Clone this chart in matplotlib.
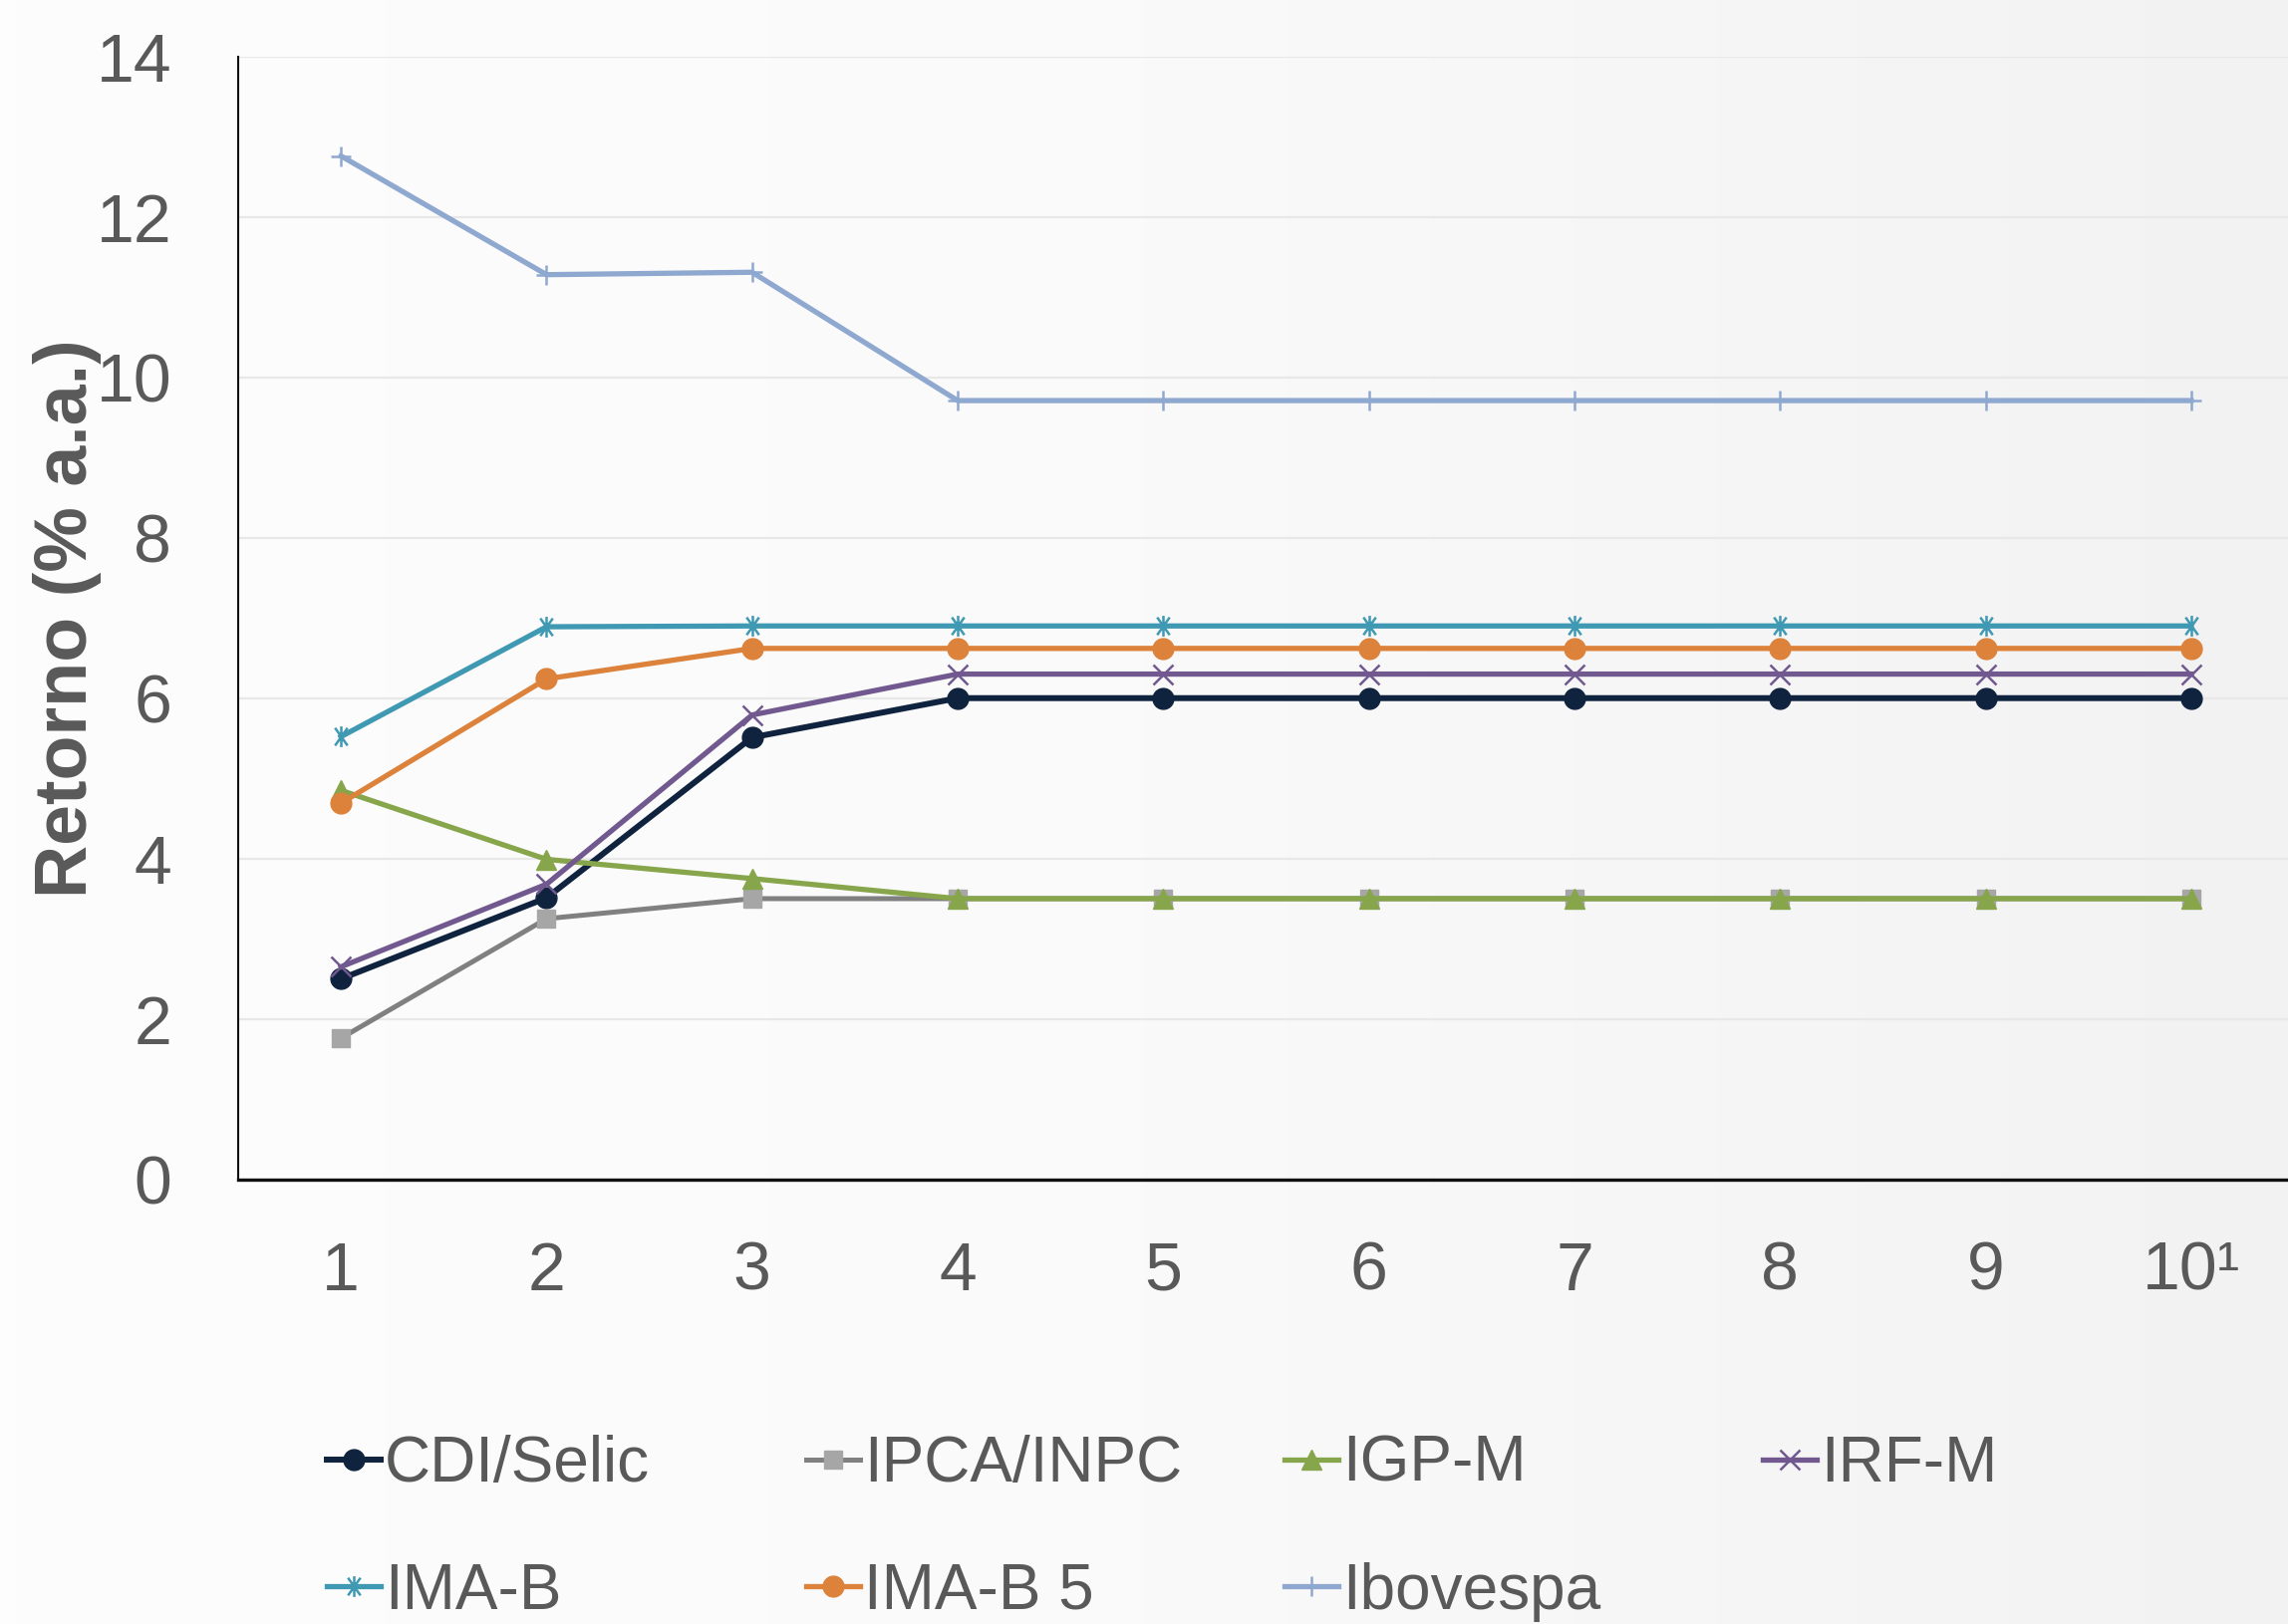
import numpy as np
import matplotlib
matplotlib.use("Agg")
import matplotlib.pyplot as plt
from matplotlib.path import Path
from matplotlib.colors import LinearSegmentedColormap

# Holding period (years) and projected annual return (% a.a.) per index
anos = [1, 2, 3, 4, 5, 6, 7, 8, 9, 10]
rotulos_x = ["1", "2", "3", "4", "5", "6", "7", "8", "9", "10\u00b9"]

cdi_selic = [2.50, 3.51, 5.51, 6.00, 6.00, 6.00, 6.00, 6.00, 6.00, 6.00]
ipca_inpc = [1.76, 3.25, 3.50, 3.50, 3.50, 3.50, 3.50, 3.50, 3.50, 3.50]
igp_m     = [4.85, 3.99, 3.75, 3.50, 3.50, 3.50, 3.50, 3.50, 3.50, 3.50]
irf_m     = [2.65, 3.68, 5.79, 6.30, 6.30, 6.30, 6.30, 6.30, 6.30, 6.30]
ima_b     = [5.52, 6.89, 6.90, 6.90, 6.90, 6.90, 6.90, 6.90, 6.90, 6.90]
ima_b5    = [4.69, 6.24, 6.62, 6.62, 6.62, 6.62, 6.62, 6.62, 6.62, 6.62]
ibovespa  = [12.76, 11.28, 11.31, 9.71, 9.71, 9.71, 9.71, 9.71, 9.71, 9.71]

y_ticks = [0, 2, 4, 6, 8, 10, 12, 14]

TXT = "#595959"
plt.rcParams["font.family"] = ["Liberation Sans", "DejaVu Sans"]

# six-armed star: vertical bar crossed by a steep X
star = Path(
    [(0, -1), (0, 1), (-0.6, -0.85), (0.6, 0.85), (-0.6, 0.85), (0.6, -0.85)],
    [Path.MOVETO, Path.LINETO, Path.MOVETO, Path.LINETO, Path.MOVETO, Path.LINETO],
)

series = [
    ("CDI/Selic", cdi_selic, dict(color="#0f233f", lw=4.3, marker="o", ms=15,
                                   mfc="#0f233f", mec="#0f233f")),
    ("IPCA/INPC", ipca_inpc, dict(color="#808080", lw=3.6, marker="s", ms=13.5,
                                   mfc="#a6a6a6", mec="#a6a6a6")),
    ("IGP-M", igp_m, dict(color="#87a54b", lw=3.8, marker="^", ms=15,
                           mfc="#87a54b", mec="#87a54b")),
    ("IRF-M", irf_m, dict(color="#71598f", lw=3.8, marker="x", ms=14,
                           mec="#71598f", mew=1.8)),
    ("IMA-B", ima_b, dict(color="#3f99b3", lw=3.8, marker=star, ms=15,
                           mec="#3f99b3", mfc="none", mew=1.8)),
    ("IMA-B 5", ima_b5, dict(color="#dc823b", lw=3.8, marker="o", ms=15,
                              mfc="#dc823b", mec="#dc823b")),
    ("Ibovespa", ibovespa, dict(color="#8fa8cf", lw=3.8, marker="+", ms=14,
                                 mec="#8fa8cf", mew=1.8)),
]

fig = plt.figure(figsize=(22.96, 16.30), dpi=100)
fig.patch.set_facecolor("white")

# soft left-to-right background shading
bg = fig.add_axes([0, 0, 1, 1], zorder=-10)
grad = np.linspace(0, 1, 256).reshape(1, -1)
cmap = LinearSegmentedColormap.from_list("bgshade", ["#fdfdfd", "#fafafa", "#f2f2f3"])
bg.imshow(grad, aspect="auto", cmap=cmap, extent=[0, 1, 0, 1])
bg.axis("off")

ax = fig.add_axes([0.1041, 0.2738, 0.8985, 0.6914])
ax.set_facecolor("none")

handles = {}
for name, vals, style in series:
    (h,) = ax.plot(anos, vals, label=name, solid_joinstyle="round", **style)
    handles[name] = h

ax.set_xlim(0.5, 10.5)
ax.set_ylim(0, 14)
ax.set_yticks(y_ticks)
ax.set_xticks(anos)
ax.set_xticklabels(rotulos_x)
ax.tick_params(axis="both", length=0, labelsize=49, labelcolor=TXT)
ax.tick_params(axis="y", pad=48)
ax.tick_params(axis="x", pad=44)

ax.grid(axis="y", color="#e8e8e8", lw=1.6)
ax.set_axisbelow(True)
for s in ("top", "right"):
    ax.spines[s].set_visible(False)
ax.spines["left"].set_color("#111111")
ax.spines["left"].set_linewidth(1.5)
ax.spines["bottom"].set_color("#111111")
ax.spines["bottom"].set_linewidth(2.4)

ax.set_ylabel("Retorno (% a.a.)", fontsize=53, fontweight="bold", color=TXT)
ax.yaxis.label.set_va("center")
ax.yaxis.set_label_coords(-0.083, 0.5)

# legend laid out as two rows, one legend object per column
columns = [
    (0.1429, ["CDI/Selic", "IMA-B"]),
    (0.3523, ["IPCA/INPC", "IMA-B 5"]),
    (0.5614, ["IGP-M", "Ibovespa"]),
    (0.7705, ["IRF-M"]),
]
for x0, names in columns:
    leg = fig.legend(
        [handles[n] for n in names], names,
        loc="upper left", bbox_to_anchor=(x0, 0.1166),
        bbox_transform=fig.transFigure,
        frameon=False, fontsize=46, borderpad=0, borderaxespad=0,
        handlelength=0.85, handletextpad=0.06, labelspacing=1.06,
        numpoints=1, labelcolor=TXT,
    )

fig.savefig("out.png", dpi=100)
